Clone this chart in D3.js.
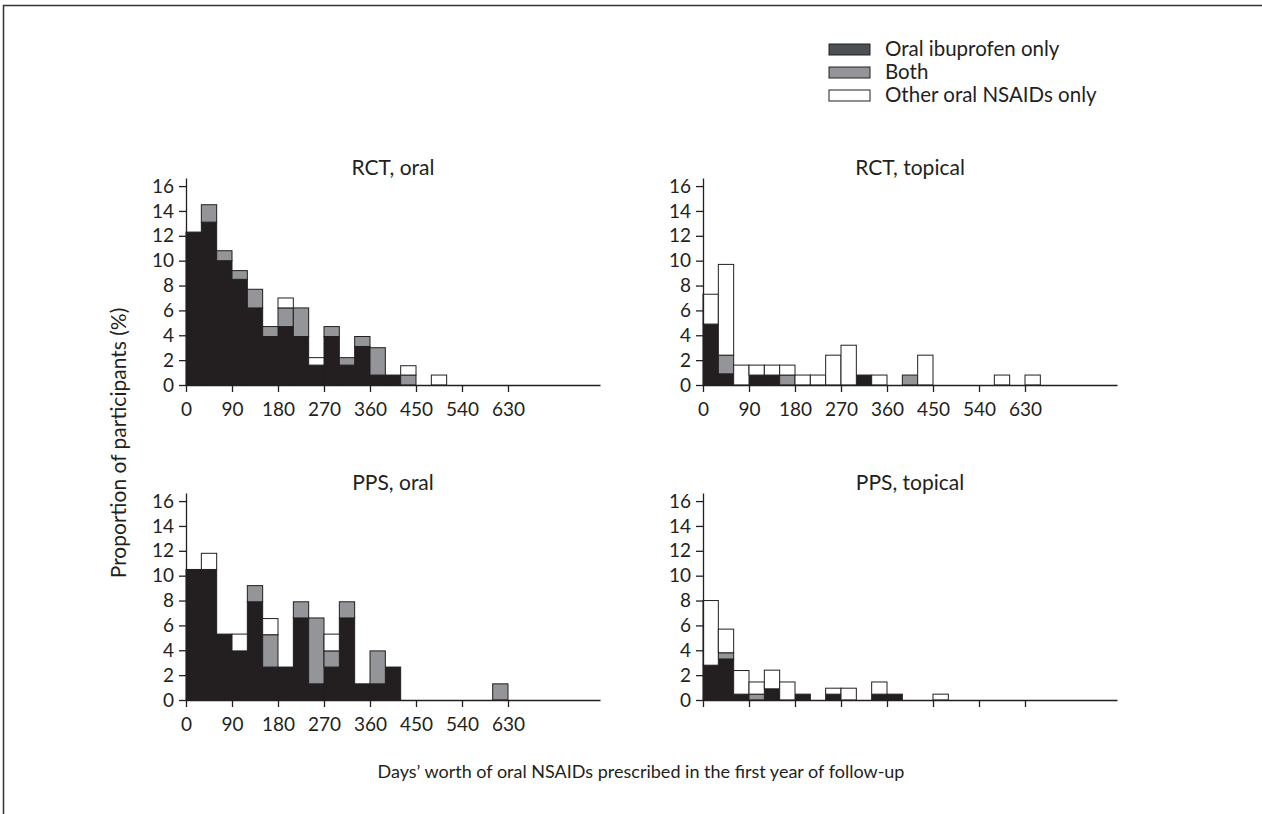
<!DOCTYPE html>
<html>
<head>
<meta charset="utf-8">
<script src="https://cdn.jsdelivr.net/npm/d3@7"></script>
<style>
  body { margin: 0; background: #fff; }
  svg { display: block; font-family: Lato, "Open Sans", sans-serif; }
</style>
</head>
<body>
<script>
// bins are 30 days wide, value = % of participants
const binWidth = 30;
const seriesNames = ["Oral ibuprofen only", "Both", "Other oral NSAIDs only"];
const xTicks = [0, 90, 180, 270, 360, 450, 540, 630];
const yTicks = [0, 2, 4, 6, 8, 10, 12, 14, 16];

const rctOralIbu   = [12.3, 13.1, 10.0, 8.5, 6.2, 3.9, 4.7, 3.9, 1.6, 3.9, 1.6, 3.1, 0.8, 0.8, 0, 0, 0];
const rctOralBoth  = [0, 1.4, 0.8, 0.7, 1.5, 0.8, 1.5, 2.3, 0, 0.8, 0.6, 0.8, 2.2, 0, 0.8, 0, 0];
const rctOralOther = [0, 0, 0, 0, 0, 0, 0.8, 0, 0.6, 0, 0, 0, 0, 0, 0.75, 0, 0.8];

const rctTopIbu   = [4.9, 0.9, 0, 0.8, 0.8, 0, 0, 0, 0, 0, 0.8, 0, 0, 0, 0, 0, 0, 0, 0, 0, 0, 0];
const rctTopBoth  = [0, 1.5, 0, 0, 0, 0.8, 0, 0, 0, 0, 0, 0, 0, 0.8, 0, 0, 0, 0, 0, 0, 0, 0];
const rctTopOther = [2.4, 7.3, 1.6, 0.8, 0.8, 0.8, 0.8, 0.8, 2.4, 3.2, 0, 0.8, 0, 0, 2.4, 0, 0, 0, 0, 0.8, 0, 0.8];

const ppsOralIbu   = [10.5, 10.5, 5.3, 3.95, 7.9, 2.65, 2.65, 6.6, 1.3, 2.65, 6.6, 1.3, 1.3, 2.65, 0, 0, 0, 0, 0, 0, 0];
const ppsOralBoth  = [0, 0, 0, 0, 1.3, 2.6, 0, 1.3, 5.3, 1.3, 1.3, 0, 2.65, 0, 0, 0, 0, 0, 0, 0, 1.3];
const ppsOralOther = [0, 1.3, 0, 1.35, 0, 1.3, 0, 0, 0, 1.35, 0, 0, 0, 0, 0, 0, 0, 0, 0, 0, 0];

const ppsTopIbu   = [2.8, 3.3, 0.47, 0, 0.9, 0, 0.47, 0, 0.47, 0, 0, 0.47, 0.47, 0, 0, 0];
const ppsTopBoth  = [0, 0.5, 0, 0.47, 0, 0, 0, 0, 0, 0, 0, 0, 0, 0, 0, 0];
const ppsTopOther = [5.2, 1.9, 1.9, 0.98, 1.5, 1.45, 0, 0, 0.48, 0.95, 0, 0.98, 0, 0, 0, 0.47];

const panels = [
  {title: "RCT, oral",    ibu: rctOralIbu, both: rctOralBoth, other: rctOralOther, x0: 186, y0: 385, labels: true},
  {title: "RCT, topical", ibu: rctTopIbu,  both: rctTopBoth,  other: rctTopOther,  x0: 703, y0: 385, labels: true},
  {title: "PPS, oral",    ibu: ppsOralIbu, both: ppsOralBoth, other: ppsOralOther, x0: 186, y0: 700, labels: true},
  {title: "PPS, topical", ibu: ppsTopIbu,  both: ppsTopBoth,  other: ppsTopOther,  x0: 703, y0: 700, labels: false}
];

const fills = ["#231f20", "#939598", "#ffffff"];
const legendFills = ["#4a5054", "#939598", "#ffffff"];
const ink = "#231f20";

const W = 1262, H = 814;
const plotW = 414, plotH = 207;

const svg = d3.select("body").append("svg")
  .attr("width", W)
  .attr("height", H);

// frame (top and left only)
svg.append("path")
  .attr("d", `M3.5,${H} L3.5,5.5 L${W},5.5`)
  .attr("fill", "none")
  .attr("stroke", "#333")
  .attr("stroke-width", 1.5);

const x = d3.scaleLinear().domain([0, 810]).range([0, plotW]);
const y = d3.scaleLinear().domain([0, 16.65]).range([plotH, 0]);

panels.forEach(p => {
  const g = svg.append("g")
    .attr("transform", `translate(${p.x0}, ${p.y0 - plotH})`);

  const rows = p.ibu.map((v, i) => ({start: i * binWidth, ibu: v, both: p.both[i], other: p.other[i]}));
  const stacked = d3.stack().keys(["ibu", "both", "other"])(rows);

  stacked.forEach((layer, k) => {
    g.append("g")
      .selectAll("rect")
      .data(layer.filter(d => d[1] - d[0] > 0))
      .enter()
      .append("rect")
      .attr("x", d => x(d.data.start))
      .attr("y", d => y(d[1]))
      .attr("width", x(binWidth) - x(0))
      .attr("height", d => y(d[0]) - y(d[1]))
      .attr("fill", fills[k])
      .attr("stroke", ink)
      .attr("stroke-width", 1);
  });

  const xa = g.append("g")
    .attr("transform", `translate(0, ${plotH})`)
    .call(d3.axisBottom(x).tickValues(xTicks).tickSize(7).tickSizeOuter(0).tickPadding(11)
      .tickFormat(p.labels ? d3.format("d") : () => ""));

  const ya = g.append("g")
    .call(d3.axisLeft(y).tickValues(yTicks).tickSize(7).tickSizeOuter(0).tickPadding(5));

  [xa, ya].forEach(a => {
    a.selectAll("path, line").attr("stroke", ink).attr("stroke-width", 1.3);
    a.selectAll("text").attr("fill", ink).style("font-size", "19px").style("font-family", "Lato, sans-serif");
  });

  g.append("text")
    .attr("x", plotW / 2)
    .attr("y", plotH - 210)
    .attr("text-anchor", "middle")
    .attr("fill", ink)
    .style("font-size", "21px")
    .text(p.title);
});

// legend
const legend = svg.append("g").attr("transform", "translate(829, 44)");
seriesNames.forEach((name, i) => {
  const row = legend.append("g").attr("transform", `translate(0, ${i * 23})`);
  row.append("rect")
    .attr("width", 41).attr("height", 11)
    .attr("fill", legendFills[i])
    .attr("stroke", ink).attr("stroke-width", 1);
  row.append("text")
    .attr("x", 56).attr("y", 12)
    .attr("fill", ink)
    .style("font-size", "20.5px")
    .text(name);
});

svg.append("text")
  .attr("transform", "translate(126, 443) rotate(-90)")
  .attr("text-anchor", "middle")
  .attr("fill", ink)
  .style("font-size", "21px")
  .text("Proportion of participants (%)");

svg.append("text")
  .attr("x", 641)
  .attr("y", 778)
  .attr("text-anchor", "middle")
  .attr("fill", ink)
  .style("font-size", "18px")
  .text("Days\u2019 worth of oral NSAIDs prescribed in the first year of follow-up");
</script>
</body>
</html>
